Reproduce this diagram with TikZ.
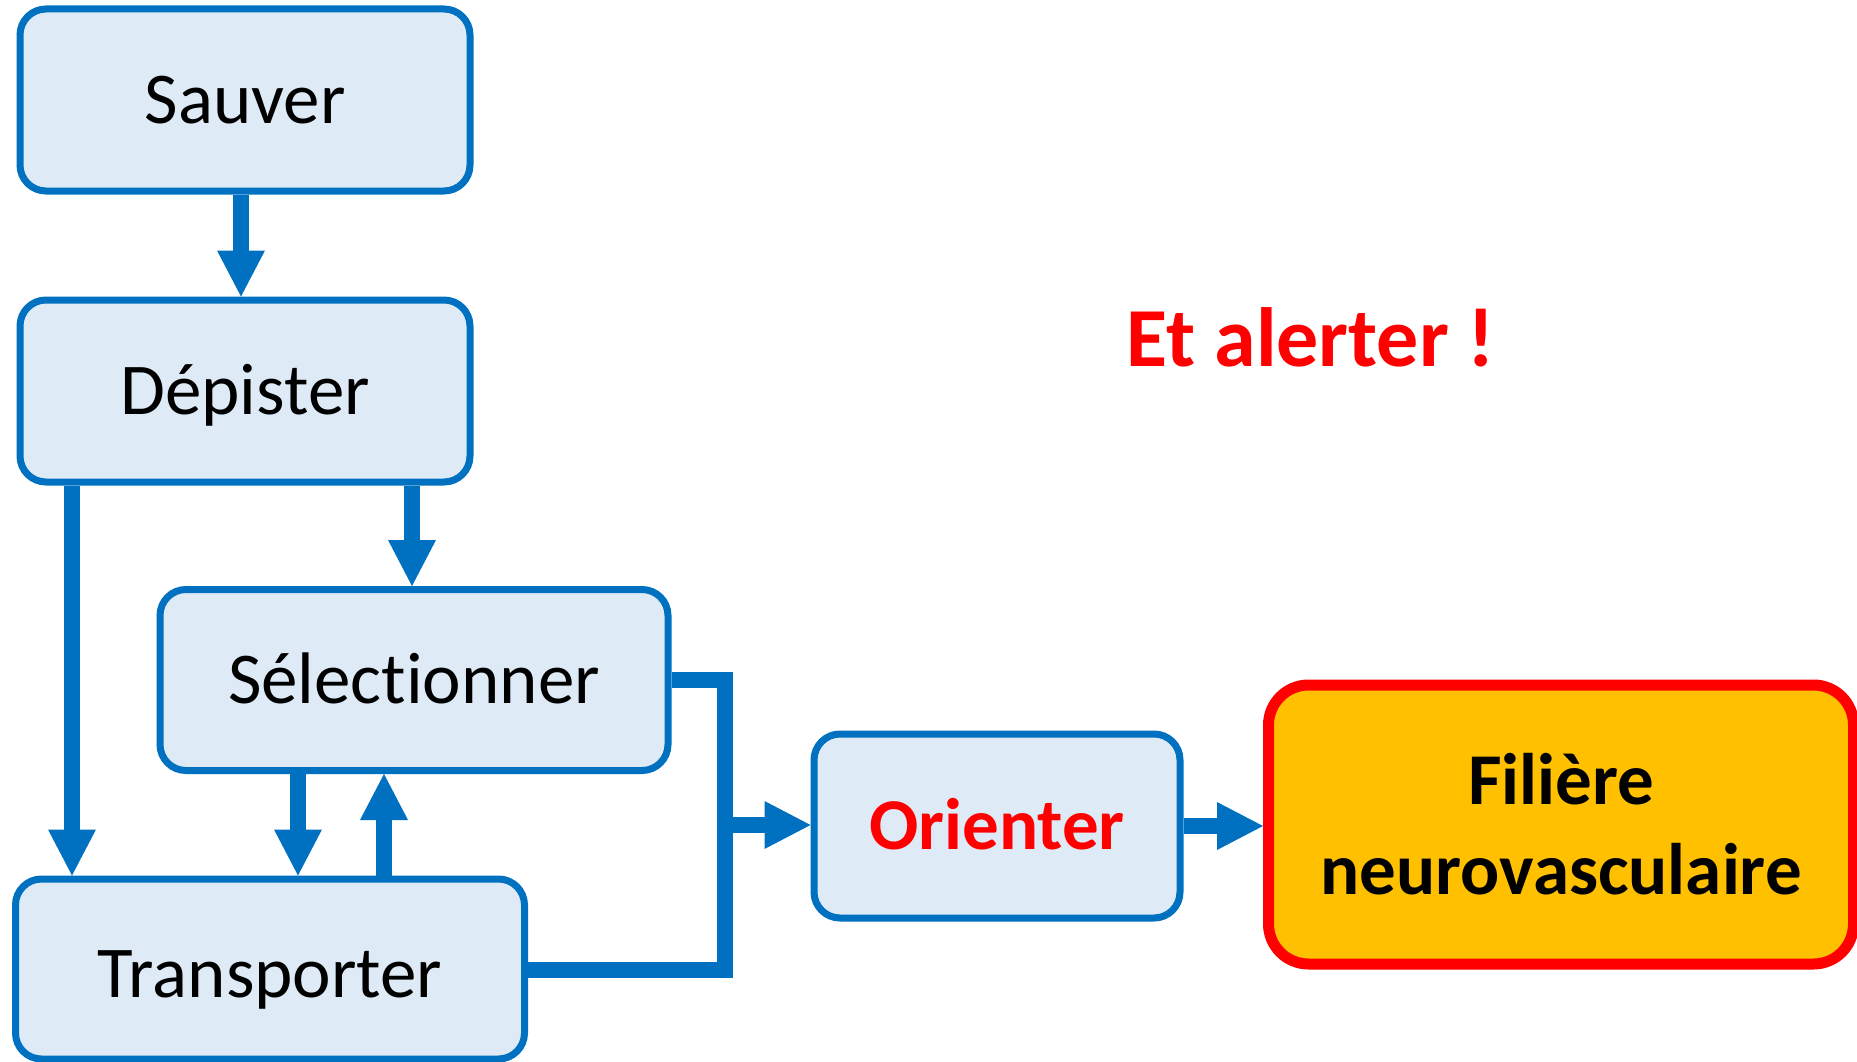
\documentclass[tikz,border=0pt]{standalone}
\usepackage{fontspec}
\setmainfont{Carlito}[Ligatures=NoCommon]
\usetikzlibrary{arrows.meta}
\definecolor{bblue}{HTML}{0070C0}
\definecolor{lblue}{HTML}{DEEBF7}
\definecolor{gold}{HTML}{FFC000}
\definecolor{rred}{HTML}{FF0000}
\begin{document}
\begin{tikzpicture}[x=1pt,y=-1pt,
  box/.style={draw=bblue, fill=lblue, line width=7pt, rounded corners=26pt, inner sep=0pt,
    font=\fontsize{73}{88}\selectfont, text height=47pt, text depth=0pt},
  arr/.style={draw=bblue, line width=16pt, -{Triangle[width=48pt,length=46pt,line width=0pt]}},
  link/.style={draw=bblue, line width=16pt, line join=miter},
]
\useasboundingbox (0,0) rectangle (1857,1062);

\node[box, minimum width=450pt, minimum height=182pt] (sa) at (245,100) {Sauver};
\node[box, minimum width=450pt, minimum height=182pt] (de) at (245,391) {Dépister};
\node[box, minimum width=508pt, minimum height=181pt] (se) at (414,680) {Sélectionner};
\node[box, minimum width=509pt, minimum height=180pt, text height=57pt] (tr) at (270,969) {Transporter};
\node[box, minimum width=366pt, minimum height=184pt, text=rred, font=\fontsize{73}{88}\selectfont\bfseries] (or) at (997,826) {Orienter};
\node[draw=rred, fill=gold, line width=11pt, rounded corners=40pt, inner sep=0pt,
  minimum width=585pt, minimum height=279pt, align=center,
  font=\fontsize{73}{90}\selectfont\bfseries] (fi) at (1561,824.5) {Filière\\neurovasculaire};

\node[text=rred, font=\fontsize{84}{100}\selectfont\bfseries] (al) at (1311,337) {Et alerter !};

\coordinate (x241) at (241,0);
\coordinate (x72) at (72,0);
\coordinate (x412) at (412,0);
\coordinate (x298) at (298,0);
\coordinate (x384) at (384,0);
\coordinate (b1) at (725,680);
\coordinate (b2) at (725,970);
\coordinate (b3) at (725,825);

\draw[arr] (sa.south -| x241) -- (de.north -| x241);
\draw[arr] (de.south -| x72) -- (tr.north -| x72);
\draw[arr] (de.south -| x412) -- (se.north -| x412);
\draw[arr] (se.south -| x298) -- (tr.north -| x298);
\draw[arr] (tr.north -| x384) -- (se.south -| x384);
\draw[link] (se.east |- b1) -- (b1) -- (b2) -- (tr.east |- b2);
\draw[arr] (b3) -- (or.west |- b3);
\draw[arr] (or.east) -- (fi.west |- or.east);
\end{tikzpicture}
\end{document}
